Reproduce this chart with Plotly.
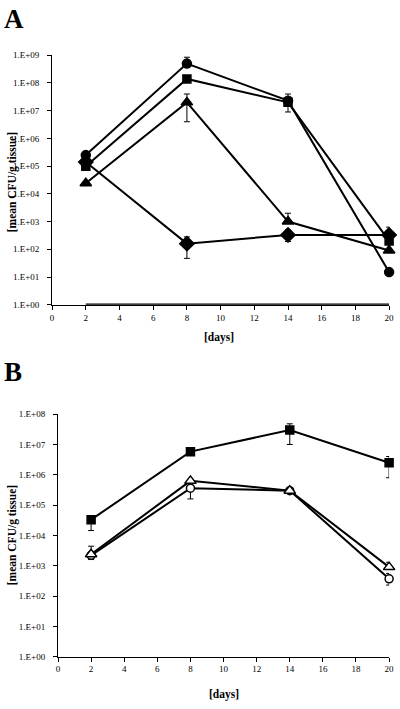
import plotly.graph_objects as go

W, H = 400, 709
days = [2, 8, 14, 20]

# Panel A values (mean CFU/g tissue)
a_circle = [2.5e5, 5.0e8, 2.3e7, 15]
a_circle_up = [0, 3.5e8, 0, 0]
a_circle_dn = [0, 0, 0, 0]
a_square = [1.0e5, 1.4e8, 2.0e7, 200]
a_square_up = [0, 0, 2.0e7, 0]
a_square_dn = [0, 0, 1.1e7, 0]
a_triangle = [2.4e4, 2.0e7, 1.0e3, 90]
a_triangle_up = [0, 2.0e7, 1.0e3, 0]
a_triangle_dn = [0, 1.6e7, 0, 0]
a_diamond = [1.4e5, 160, 330, 330]
a_diamond_up = [0, 120, 170, 300]
a_diamond_dn = [0, 113, 140, 0]
a_base = [1, 1, 1, 1]

# Panel B values
b_square = [3.3e4, 5.8e6, 3.0e7, 2.5e6]
b_square_up = [0, 0, 1.8e7, 1.5e6]
b_square_dn = [1.85e4, 0, 2.0e7, 1.7e6]
b_triangle = [2.4e3, 6.3e5, 3.0e5, 900]
b_triangle_up = [2.0e3, 0, 0, 400]
b_triangle_dn = [0, 0, 0, 0]
b_circle = [2.2e3, 3.6e5, 3.0e5, 370]
b_circle_up = [0, 0, 0, 190]
b_circle_dn = [600, 2.0e5, 0, 140]

a_ticks = [10 ** i for i in range(10)]
a_ticktext = ["1.E+%02d" % i for i in range(10)]
b_ticks = [10 ** i for i in range(9)]
b_ticktext = ["1.E+%02d" % i for i in range(9)]
x_ticks = list(range(0, 21, 2))

FONT = "Liberation Serif"

def px(x):
    return x / W

def py(y):
    return 1 - y / H

def err(up, dn):
    return dict(type="data", symmetric=False, array=up, arrayminus=dn,
                color="black", thickness=1, width=3)

def series(y, up, dn, symbol, size, xa, ya, fill="black"):
    return go.Scatter(x=days, y=y, mode="lines+markers", xaxis=xa, yaxis=ya,
                      line=dict(color="black", width=2),
                      marker=dict(symbol=symbol, size=size, color=fill,
                                  line=dict(color="black", width=1.5)),
                      error_y=err(up, dn), showlegend=False, cliponaxis=False)

fig = go.Figure()
fig.add_trace(go.Scatter(x=days, y=a_base, mode="lines", xaxis="x", yaxis="y",
                         line=dict(color="black", width=2.5), showlegend=False,
                         cliponaxis=False))
fig.add_trace(series(a_diamond, a_diamond_up, a_diamond_dn, "diamond", 11, "x", "y"))
fig.add_trace(series(a_triangle, a_triangle_up, a_triangle_dn, "triangle-up", 10, "x", "y"))
fig.add_trace(series(a_square, a_square_up, a_square_dn, "square", 8, "x", "y"))
fig.add_trace(series(a_circle, a_circle_up, a_circle_dn, "circle", 9, "x", "y"))

fig.add_trace(series(b_square, b_square_up, b_square_dn, "square", 8, "x2", "y2"))
fig.add_trace(series(b_circle, b_circle_up, b_circle_dn, "circle", 8, "x2", "y2", fill="white"))
fig.add_trace(series(b_triangle, b_triangle_up, b_triangle_dn, "triangle-up", 10, "x2", "y2", fill="white"))

axis_common = dict(showgrid=False, zeroline=False, showline=True, linecolor="black",
                   linewidth=1, ticks="outside", ticklen=4, tickcolor="black",
                   tickfont=dict(family=FONT, size=9, color="black"))
yextra = dict(ticklabelstandoff=6)

fig.update_layout(
    width=W, height=H, margin=dict(l=0, r=0, t=0, b=0),
    paper_bgcolor="white", plot_bgcolor="white",
    xaxis=dict(domain=[px(51), px(394)], range=[0, 20], tickvals=x_ticks,
               anchor="y", **axis_common),
    yaxis=dict(domain=[py(304), py(51)], type="log", range=[0, 9],
               tickvals=a_ticks, ticktext=a_ticktext, anchor="x", **axis_common, **yextra),
    xaxis2=dict(domain=[px(57), px(394)], range=[0, 20], tickvals=x_ticks,
                anchor="y2", **axis_common),
    yaxis2=dict(domain=[py(661), py(415)], type="log", range=[0, 8],
                tickvals=b_ticks, ticktext=b_ticktext, anchor="x2", **axis_common, **yextra),
)

def ann(text, x, y, size, angle=0):
    fig.add_annotation(text=text, x=px(x), y=py(y), xref="paper", yref="paper",
                       showarrow=False, textangle=angle, xanchor="center", yanchor="middle",
                       font=dict(family=FONT, size=size, color="black"))

ann("<b>A</b>", 12, 14, 27)
ann("<b>B</b>", 11, 372, 27)
ann("<b>[mean CFU/g tissue]</b>", 11, 180, 11.5, -90)
ann("<b>[mean CFU/g tissue]</b>", 11, 538, 11.5, -90)
ann("<b>[days]</b>", 221, 337, 11.5)
ann("<b>[days]</b>", 226, 699, 11.5)

fig.write_html("out.html", config={"displayModeBar": False},
               post_script="document.body.style.margin='0px';"
                           "document.body.style.overflow='hidden';")
